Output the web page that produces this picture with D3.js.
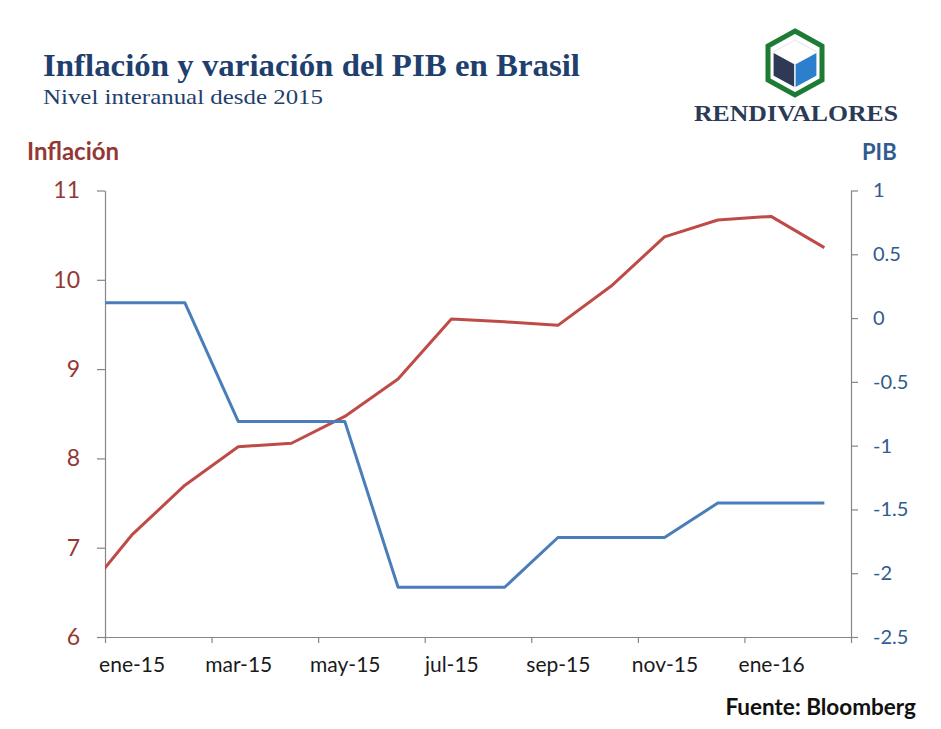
<!DOCTYPE html>
<html>
<head>
<meta charset="utf-8">
<script src="https://cdn.jsdelivr.net/npm/d3@7"></script>
<style>
  html, body { margin: 0; padding: 0; background: #fff; }
  svg { display: block; }
</style>
</head>
<body>
<svg id="chart" width="941" height="729"></svg>
<script>
// ---- Data ----
const months = ["dic-14","ene-15","feb-15","mar-15","abr-15","may-15","jun-15","jul-15","ago-15","sep-15","oct-15","nov-15","dic-15","ene-16","feb-16"];
const inflacion = [6.41, 7.14, 7.70, 8.13, 8.17, 8.47, 8.89, 9.56, 9.53, 9.49, 9.93, 10.48, 10.67, 10.71, 10.36];
const pib = [0.12, 0.12, 0.12, -0.81, -0.81, -0.81, -2.11, -2.11, -2.11, -1.72, -1.72, -1.72, -1.45, -1.45, -1.45];
const xLabels = ["ene-15","mar-15","may-15","jul-15","sep-15","nov-15","ene-16"];
const leftTicks = [6, 7, 8, 9, 10, 11];
const rightTicks = [-2.5, -2, -1.5, -1, -0.5, 0, 0.5, 1];

const title = "Inflación y variación del PIB en Brasil";
const subtitle = "Nivel interanual desde 2015";
const source = "Fuente: Bloomberg";

// ---- Layout ----
const svg = d3.select("#chart");
const L = 105, R = 851, T = 190.5, B = 637;
const sansFont = "Lato, 'Open Sans', sans-serif";
const serifFont = "'Liberation Serif', 'DejaVu Serif', serif";
const axisColor = "#868686";
const redColor = "#BE4B48";
const blueColor = "#4A7EBB";
const redText = "#953735";
const blueText = "#2F5B8F";

const x = d3.scaleLinear().domain([0.5, months.length - 0.5]).range([L, R]);
const yL = d3.scaleLinear().domain([6, 11]).range([B, T]);
const yR = d3.scaleLinear().domain([-2.5, 1]).range([B, T]);

// ---- Title ----
svg.append("text").attr("x", 43).attr("y", 76)
  .attr("font-family", serifFont).attr("font-weight", "bold")
  .attr("font-size", 31).attr("fill", "#1F3F6E")
  .attr("textLength", 537).attr("lengthAdjust", "spacingAndGlyphs")
  .text(title);
svg.append("text").attr("x", 43).attr("y", 104)
  .attr("font-family", serifFont)
  .attr("font-size", 22).attr("fill", "#1F3F6E")
  .attr("textLength", 280).attr("lengthAdjust", "spacingAndGlyphs")
  .text(subtitle);

// ---- Logo ----
const logo = svg.append("g");
const hx = 795;
const hexPts = [[hx, 31], [hx + 27, 46], [hx + 27, 80], [hx, 95], [hx - 27, 80], [hx - 27, 46]];
logo.append("polygon").attr("points", hexPts.map(p => p.join(",")).join(" "))
  .attr("fill", "none").attr("stroke", "#1E7B34").attr("stroke-width", 5).attr("stroke-linejoin", "miter");
const topFace = [[hx, 40], [hx + 22, 52], [hx, 64], [hx - 22, 52]];
const leftFace = [[hx - 22, 52], [hx, 64], [hx, 88], [hx - 22, 76]];
const rightFace = [[hx + 22, 52], [hx, 64], [hx, 88], [hx + 22, 76]];
logo.append("polygon").attr("points", topFace.map(p => p.join(",")).join(" ")).attr("fill", "#ffffff").attr("stroke", "#d8dde6").attr("stroke-width", 0.8);
logo.append("polygon").attr("points", leftFace.map(p => p.join(",")).join(" ")).attr("fill", "#2E3A55").attr("stroke", "#fff").attr("stroke-width", 1.2);
logo.append("polygon").attr("points", rightFace.map(p => p.join(",")).join(" ")).attr("fill", "#2C7FCC").attr("stroke", "#fff").attr("stroke-width", 1.2);
logo.append("text").attr("x", 796).attr("y", 121)
  .attr("text-anchor", "middle")
  .attr("font-family", serifFont).attr("font-weight", "bold")
  .attr("font-size", 23).attr("fill", "#2B3A55")
  .attr("textLength", 204).attr("lengthAdjust", "spacingAndGlyphs")
  .text("RENDIVALORES");

// ---- Axis titles ----
svg.append("text").attr("x", 27).attr("y", 160)
  .attr("font-family", sansFont).attr("font-weight", "bold")
  .attr("font-size", 24).attr("fill", redText).text("Inflación");
svg.append("text").attr("x", 862).attr("y", 160)
  .attr("font-family", sansFont).attr("font-weight", "bold")
  .attr("font-size", 22).attr("fill", blueText).text("PIB");

// ---- Axes ----
function styleAxis(g) {
  g.selectAll(".domain").attr("stroke", axisColor).attr("stroke-width", 1.2);
  g.selectAll(".tick line").attr("stroke", axisColor).attr("stroke-width", 1.2);
}

const gL = svg.append("g").attr("transform", `translate(${L},0)`)
  .call(d3.axisLeft(yL).tickValues(leftTicks).tickSize(8).tickSizeOuter(0).tickPadding(17).tickFormat(d => String(d)));
styleAxis(gL);
gL.selectAll("text").attr("font-family", sansFont).attr("font-size", 23).attr("fill", redText);

const gR = svg.append("g").attr("transform", `translate(${R},0)`)
  .call(d3.axisRight(yR).tickValues(rightTicks).tickSize(7).tickSizeOuter(0).tickPadding(15).tickFormat(d => String(d)));
styleAxis(gR);
gR.selectAll("text").attr("font-family", sansFont).attr("font-size", 20).attr("fill", blueText);

// bottom axis: tick marks at every 2nd category boundary
const boundaries = d3.range(0.5, months.length, 2);
const gB = svg.append("g").attr("transform", `translate(0,${B})`)
  .call(d3.axisBottom(x).tickValues(boundaries).tickSize(6).tickSizeOuter(0).tickFormat(""));
styleAxis(gB);

// bottom labels at categories
const labelIdx = xLabels.map(l => months.indexOf(l));
const gBL = svg.append("g").attr("transform", `translate(0,${B})`)
  .call(d3.axisBottom(x).tickValues(labelIdx).tickSize(0).tickPadding(20).tickFormat(d => months[d]));
gBL.select(".domain").remove();
gBL.selectAll("text").attr("font-family", sansFont).attr("font-size", 21).attr("fill", "#1a1a1a");

// ---- Lines ----
svg.append("clipPath").attr("id", "plotClip")
  .append("rect").attr("x", L).attr("y", T - 10).attr("width", R - L).attr("height", B - T + 20);

const lineL = d3.line().x((d, i) => x(i)).y(d => yL(d));
const lineR = d3.line().x((d, i) => x(i)).y(d => yR(d));

svg.append("path").datum(inflacion)
  .attr("clip-path", "url(#plotClip)")
  .attr("d", lineL).attr("fill", "none")
  .attr("stroke", redColor).attr("stroke-width", 3).attr("stroke-linejoin", "round");

svg.append("path").datum(pib)
  .attr("clip-path", "url(#plotClip)")
  .attr("d", lineR).attr("fill", "none")
  .attr("stroke", blueColor).attr("stroke-width", 3).attr("stroke-linejoin", "round");

// ---- Source ----
svg.append("text").attr("x", 916).attr("y", 715)
  .attr("text-anchor", "end")
  .attr("font-family", sansFont).attr("font-weight", "bold")
  .attr("font-size", 22.5).attr("fill", "#111").text(source);
</script>
</body>
</html>
